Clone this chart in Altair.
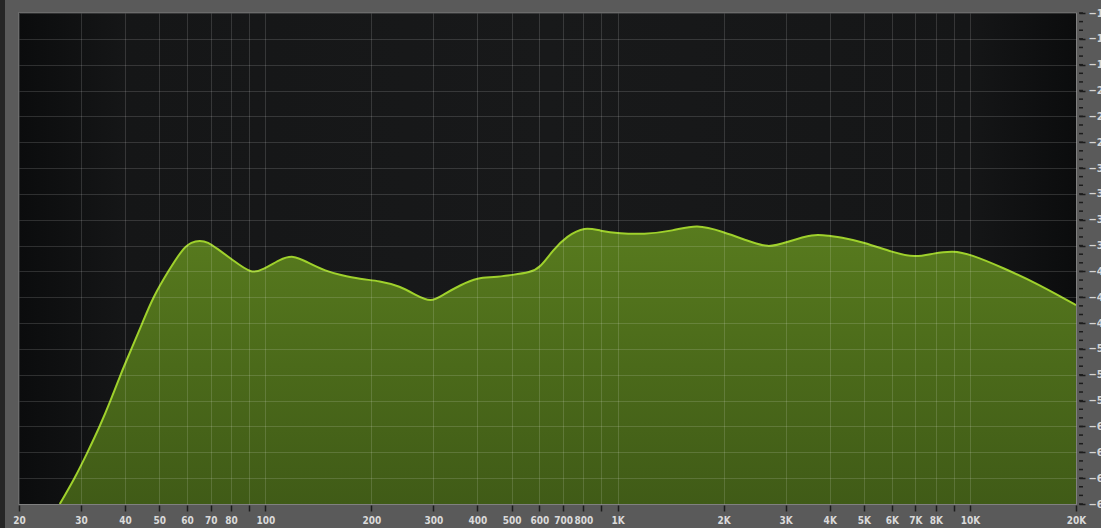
import altair as alt
import pandas as pd

# Spectrum curve (frequency in Hz, level in dB)
freq_hz = [26.1, 28.8, 31.3, 33.9, 36.4, 38.8, 41.7, 44.8, 48.0, 53.0, 58.4, 61.7,
           65.2, 68.8, 72.7, 81.0, 91.4, 98.6, 110, 120, 131, 149, 163, 186, 211,
           241, 269, 295, 320, 357, 402, 443, 505, 564, 602, 656, 717, 808, 891,
           1015, 1182, 1439, 1676, 1994, 2324, 2678, 3020, 3592, 4008, 4278, 4982,
           6060, 6984, 7874, 8974, 10008, 12444, 15478, 18418, 20000]
level_db = [-69.0, -66.0, -63.0, -60.0, -57.0, -54.0, -51.0, -48.0, -45.0, -42.0, -39.3,
            -38.6, -38.4, -38.6, -39.3, -40.7, -42.3, -41.8, -40.6, -40.1, -40.9, -42.0,
            -42.4, -42.9, -43.1, -43.7, -44.8, -45.6, -44.7, -43.6, -42.7, -42.7, -42.4,
            -42.1, -41.6, -39.5, -37.9, -36.8, -37.3, -37.6, -37.7, -37.3, -36.5, -37.4,
            -38.4, -39.3, -38.6, -37.6, -37.9, -38.0, -38.6, -39.8, -40.4, -39.9, -39.6,
            -40.0, -41.6, -43.4, -45.1, -45.9]

# Axis ticks
freq_ticks = [20, 30, 40, 50, 60, 70, 80, 90, 100, 200, 300, 400, 500, 600, 700, 800,
              900, 1000, 2000, 3000, 4000, 5000, 6000, 7000, 8000, 9000, 10000, 20000]
db_major = [-69, -66, -63, -60, -57, -54, -51, -48, -45, -42, -39, -36, -33, -30,
            -27, -24, -21, -18, -15, -12]
db_minor = list(range(-69, -11))

W, H = 1057, 491
FONT = "Liberation Sans Narrow, DejaVu Sans Condensed, Liberation Sans, sans-serif"

df = pd.DataFrame({"f": freq_hz, "db": level_db})
minor_df = pd.DataFrame({"db": db_minor})

xscale = alt.Scale(type="log", domain=[20, 20000], nice=False)
yscale = alt.Scale(domain=[-69, -12], nice=False, zero=False)

x_axis = alt.Axis(
    values=freq_ticks, tickCount=200, orient="bottom", title=None, domain=False,
    labelExpr="indexof([90, 900, 9000], datum.value) >= 0 ? '' : (datum.value >= 1000 ? (datum.value / 1000) + 'K' : '' + datum.value)",
    labelFont=FONT, labelFontSize=10, labelFontWeight="bold", labelColor="#dadada",
    labelFlush=False, labelPadding=4, labelOverlap=False, labelBound=False,
    tickColor="#1c1c1c", tickSize=6, tickWidth=1.5, offset=1,
    grid=True, gridColor="#ffffff", gridOpacity=0.14, gridWidth=1, zindex=1,
)
y_axis = alt.Axis(
    values=db_major, tickCount=200, orient="right", title=None, domain=False,
    labelFont=FONT, labelFontSize=11, labelFontWeight="bold", labelColor="#d4d4d4",
    labelFlush=False, labelPadding=3, labelOverlap=False, labelBound=False,
    tickColor="#1c1c1c", tickSize=6, tickWidth=1.5, offset=3,
    grid=True, gridColor="#ffffff", gridOpacity=0.14, gridWidth=1, zindex=1,
)

bg = alt.Chart(pd.DataFrame({"a": [0]})).mark_rect(
    color=alt.Gradient(
        gradient="linear", x1=0, x2=1, y1=0, y2=0,
        stops=[alt.GradientStop(color="#0b0c0d", offset=0),
               alt.GradientStop(color="#151617", offset=0.1),
               alt.GradientStop(color="#18191a", offset=0.5),
               alt.GradientStop(color="#151617", offset=0.9),
               alt.GradientStop(color="#0b0c0d", offset=1)]),
).encode(x=alt.value(0), x2=alt.value(W), y=alt.value(0), y2=alt.value(H))

edge = alt.Chart(pd.DataFrame({"a": [0]})).mark_rect(
    color="#262626", clip=False,
).encode(x=alt.value(-19), x2=alt.value(-14), y=alt.value(-13), y2=alt.value(H + 24))

area = alt.Chart(df).mark_area(
    interpolate="basis", clip=True,
    color=alt.Gradient(
        gradient="linear", x1=0, x2=0, y1=0, y2=1,
        stops=[alt.GradientStop(color="#587b1e", offset=0),
               alt.GradientStop(color="#4b6a1a", offset=0.5),
               alt.GradientStop(color="#405b17", offset=1)]),
).encode(
    x=alt.X("f:Q", scale=xscale, axis=x_axis),
    y=alt.Y("db:Q", scale=yscale, axis=y_axis),
    y2=alt.datum(-69),
)

line = alt.Chart(df).mark_line(
    interpolate="basis", clip=True, color="#9fd12c", strokeWidth=2,
).encode(x=alt.X("f:Q", scale=xscale), y=alt.Y("db:Q", scale=yscale))

minor = alt.Chart(minor_df).mark_rule(color="#1c1c1c", strokeWidth=1.5).encode(
    y=alt.Y("db:Q", scale=yscale),
    x=alt.value(W + 3), x2=alt.value(W + 7),
)

chart = alt.layer(edge, bg, area, line, minor).properties(
    width=W, height=H,
    background="#5a5a5a",
    padding={"left": 19, "top": 13, "right": 25, "bottom": 24},
    autosize=alt.AutoSizeParams(type="none"),
).configure_view(
    stroke="#737373", strokeWidth=1.5, fill="#18191a",
)

chart.save("out.html", embed_options={"renderer": "svg", "actions": False})
